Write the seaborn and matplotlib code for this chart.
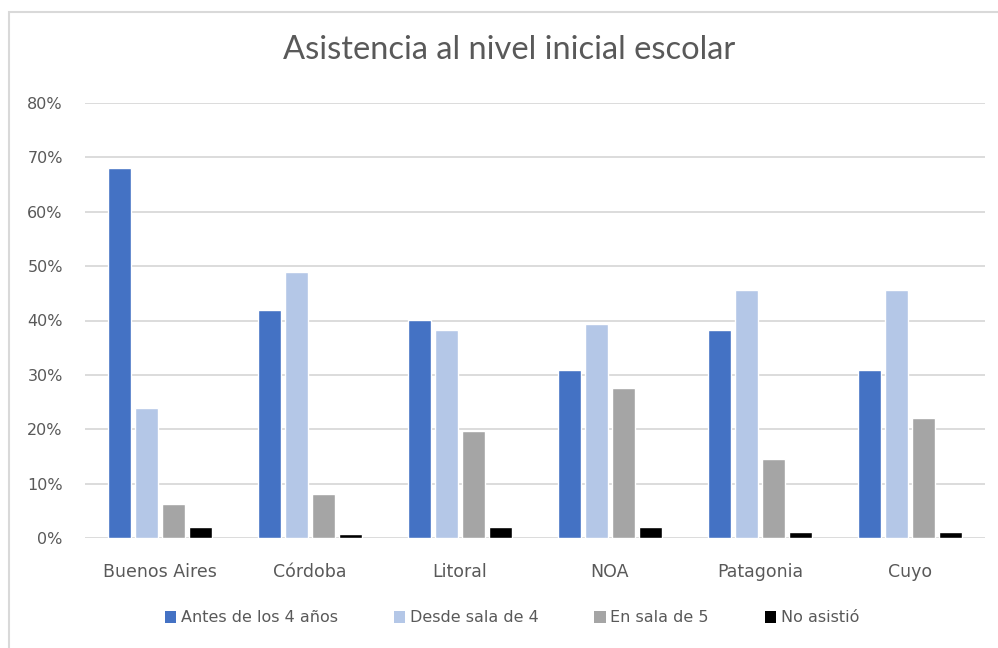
import matplotlib
matplotlib.use("Agg")
import matplotlib.pyplot as plt
from matplotlib.patches import Rectangle, Patch
from matplotlib.ticker import FuncFormatter, MultipleLocator
import pandas as pd
import seaborn as sns

regiones = ["Buenos Aires", "Córdoba", "Litoral", "NOA", "Patagonia", "Cuyo"]
series = ["Antes de los 4 años", "Desde sala de 4", "En sala de 5", "No asistió"]
antes_4 = [68.0, 42.0, 40.1, 30.9, 38.2, 30.9]
desde_sala_4 = [24.0, 49.0, 38.2, 39.3, 45.7, 45.7]
en_sala_5 = [6.2, 8.1, 19.7, 27.6, 14.5, 22.0]
no_asistio = [2.1, 0.7, 2.1, 2.1, 1.1, 1.1]
colores = ["#4472C4", "#B4C7E7", "#A5A5A5", "#000000"]

df = pd.DataFrame({
    "region": regiones * 4,
    "serie": [s for s in series for _ in regiones],
    "valor": antes_4 + desde_sala_4 + en_sala_5 + no_asistio,
})

sns.set_theme(style="white")
plt.rcParams["font.family"] = ["DejaVu Sans"]
texto = "#595959"
grilla = "#D9D9D9"

W, H = 998, 648
fig = plt.figure(figsize=(W / 100, H / 100), dpi=100)
ax = fig.add_axes([85 / W, 1 - 538 / H, 900 / W, 435 / H])

sns.barplot(data=df, x="region", y="valor", hue="serie", order=regiones,
            hue_order=series, palette=colores, width=0.72, gap=0.18,
            saturation=1, ax=ax, legend=False, zorder=3)

ax.set_ylim(0, 80)
ax.set_xlim(-0.5, len(regiones) - 0.5)
ax.yaxis.set_major_locator(MultipleLocator(10))
ax.yaxis.set_major_formatter(FuncFormatter(lambda v, _: f"{v:.0f}%"))
ax.grid(axis="y", color=grilla, linewidth=1.3, zorder=0)
ax.set_axisbelow(True)
for s in ax.spines.values():
    s.set_visible(False)
ax.set_xlabel("")
ax.set_ylabel("")
ax.tick_params(axis="y", length=0, pad=16, labelsize=11.5, labelcolor=texto)
ax.tick_params(axis="x", length=0, pad=18, labelsize=12.5, labelcolor=texto)

fig.text(509 / W, 1 - 50 / H, "Asistencia al nivel inicial escolar",
         ha="center", va="center", fontsize=23.5, color=texto,
         family=["Lato", "DejaVu Sans"])

handles = [Patch(facecolor=c, edgecolor="none") for c in colores]
fig.legend(handles, series, loc="center", bbox_to_anchor=(512 / W, 1 - 618 / H),
           ncol=4, frameon=False, fontsize=11.5, labelcolor=texto,
           handlelength=0.7, handleheight=0.7, handletextpad=0.3,
           columnspacing=3.5)

# chart frame
fig.add_artist(Rectangle((9 / W, -0.05), 1.1, 1.05 - 12 / H,
                         transform=fig.transFigure, fill=False,
                         edgecolor=grilla, linewidth=1.5))

fig.savefig("out.png", dpi=100, facecolor="white")
